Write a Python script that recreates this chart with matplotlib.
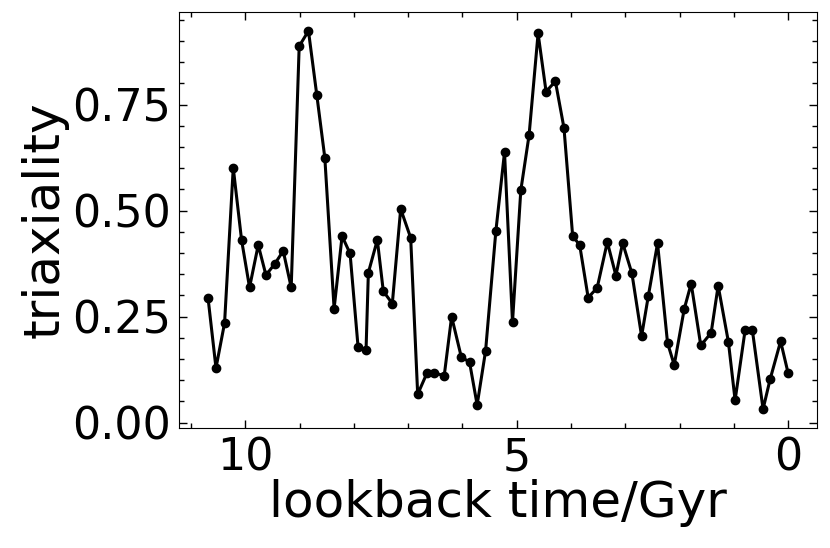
import matplotlib
matplotlib.use('Agg')
import matplotlib.pyplot as plt
from matplotlib.ticker import AutoMinorLocator

# lookback time (Gyr) and triaxiality
lookback_time = [10.686, 10.539, 10.381, 10.221, 10.068, 9.921, 9.761, 9.619, 9.454, 9.301,
                 9.154, 9.007, 8.836, 8.682, 8.535, 8.364, 8.217, 8.070, 7.923, 7.776,
                 7.733, 7.568, 7.458, 7.292, 7.138, 6.954, 6.825, 6.654, 6.520, 6.336,
                 6.200, 6.024, 5.869, 5.730, 5.575, 5.386, 5.226, 5.079, 4.926, 4.774,
                 4.608, 4.461, 4.289, 4.131, 3.971, 3.842, 3.686, 3.520, 3.333, 3.175,
                 3.051, 2.880, 2.702, 2.579, 2.408, 2.224, 2.101, 1.917, 1.789, 1.612,
                 1.421, 1.292, 1.103, 0.980, 0.796, 0.662, 0.465, 0.336, 0.142, 0.006]
triaxiality = [0.295, 0.129, 0.235, 0.601, 0.431, 0.319, 0.419, 0.348, 0.375, 0.405,
               0.319, 0.888, 0.924, 0.772, 0.625, 0.269, 0.440, 0.399, 0.179, 0.171,
               0.354, 0.431, 0.310, 0.281, 0.504, 0.436, 0.067, 0.117, 0.117, 0.111,
               0.250, 0.156, 0.142, 0.042, 0.169, 0.451, 0.638, 0.237, 0.548, 0.678,
               0.918, 0.781, 0.805, 0.695, 0.440, 0.419, 0.295, 0.318, 0.426, 0.347,
               0.424, 0.352, 0.204, 0.298, 0.423, 0.188, 0.136, 0.268, 0.328, 0.182,
               0.212, 0.323, 0.190, 0.053, 0.218, 0.218, 0.032, 0.102, 0.192, 0.118]

fig = plt.figure(figsize=(8.3, 5.48), dpi=100)
ax = fig.add_axes([179/830, 1 - 428/548, (817 - 179)/830, (428 - 12)/548])

ax.plot(lookback_time, triaxiality, '-o', color='black', lw=2.2, ms=6)
ax.invert_xaxis()

ax.set_yticks([0.0, 0.25, 0.5, 0.75])
ax.set_xticks([10, 5, 0])
ax.xaxis.set_minor_locator(AutoMinorLocator())
ax.yaxis.set_minor_locator(AutoMinorLocator())
ax.tick_params(which='both', direction='in', top=True, right=True, labelsize=32, pad=6)
ax.tick_params(which='major', length=6, width=1)
ax.tick_params(which='minor', length=3.5, width=1)

ax.set_xlabel('lookback time/Gyr', fontsize=36, labelpad=0)
ax.set_ylabel('triaxiality', fontsize=36, labelpad=2)

fig.savefig('out.png', dpi=100)
